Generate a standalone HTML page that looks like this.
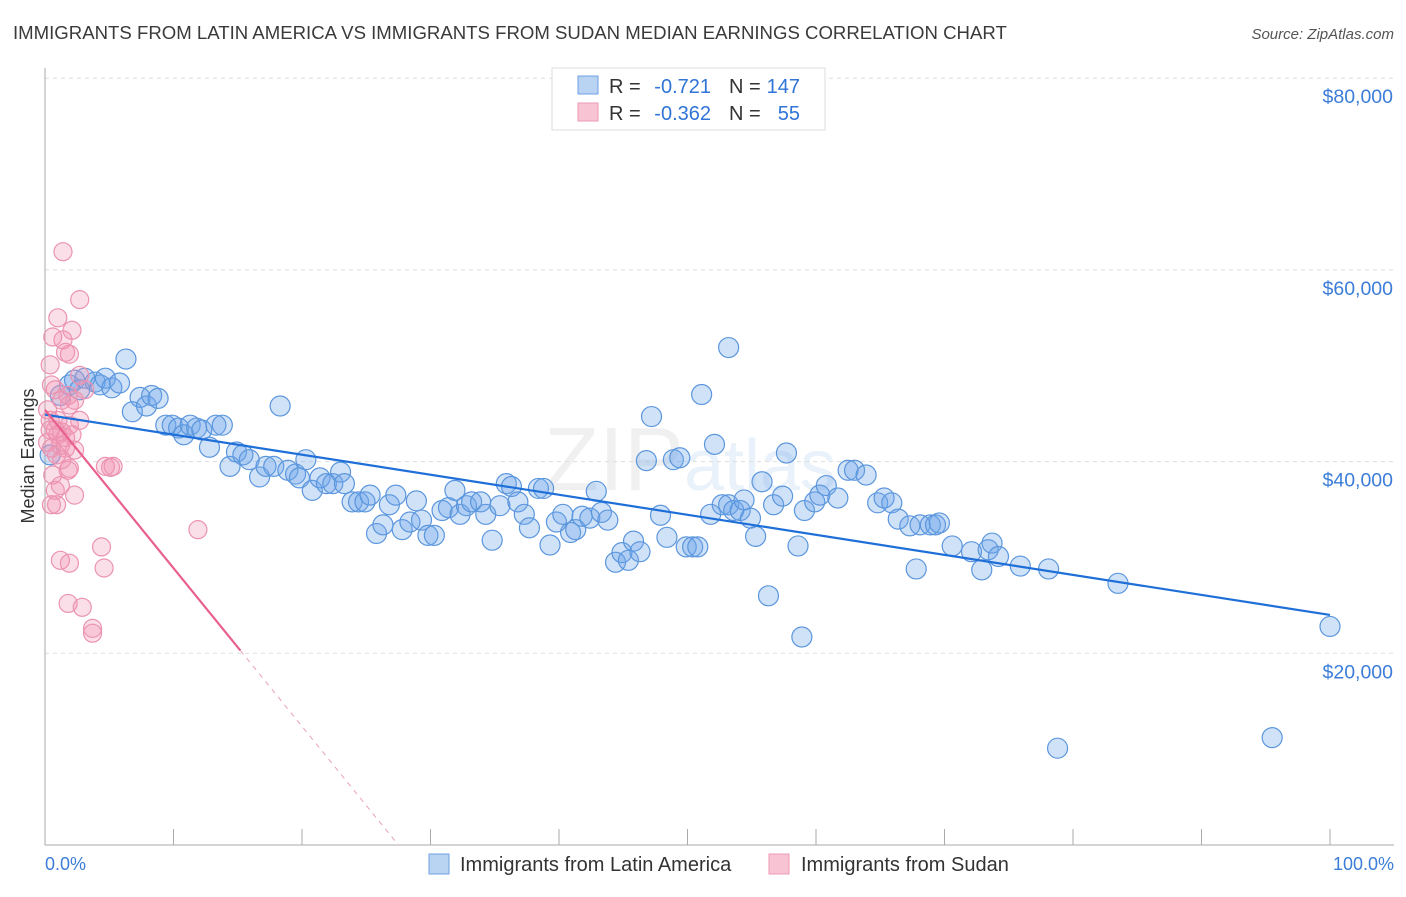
<!DOCTYPE html>
<html><head><meta charset="utf-8"><style>
body{margin:0;background:#fff;font-family:"Liberation Sans",sans-serif;}
svg text{font-family:"Liberation Sans",sans-serif;}
</style></head><body>
<svg id="chart" width="1406" height="892" viewBox="0 0 1406 892" xmlns="http://www.w3.org/2000/svg">
<text x="13" y="39" font-size="18.6" fill="#3a3a3a">IMMIGRANTS FROM LATIN AMERICA VS IMMIGRANTS FROM SUDAN MEDIAN EARNINGS CORRELATION CHART</text>
<text x="1394" y="39" font-size="15" fill="#555" font-style="italic" text-anchor="end">Source: ZipAtlas.com</text>
<text x="690" y="490" font-size="90" fill="#000" fill-opacity="0.06" text-anchor="middle" font-family="Liberation Serif">ZIP<tspan fill="#4a8fd8" fill-opacity="0.12" font-family="Liberation Sans" font-size="72">atlas</tspan></text>
<g id="grid"></g>
<g id="axes"></g>
<g id="points"></g>
<g id="trends"></g>
<text transform="translate(34,456) rotate(-90)" font-size="18" fill="#333" text-anchor="middle">Median Earnings</text>
<text x="45" y="870" font-size="18" fill="#3b7dd8">0.0%</text>
<text x="1394" y="870" font-size="18" fill="#3b7dd8" text-anchor="end">100.0%</text>
<g>
<rect x="552" y="68" width="273" height="62" fill="#fff" stroke="#ddd"/>
<rect x="578" y="76" width="20" height="18" fill="#b9d3f3" stroke="#6ea2e3"/>
<rect x="578" y="103" width="20" height="18" fill="#f8c4d3" stroke="#ec98b2"/>
<text x="609" y="93" font-size="20" fill="#333">R =</text>
<text x="711" y="93" font-size="20" fill="#2f74d6" text-anchor="end">-0.721</text>
<text x="729" y="93" font-size="20" fill="#333">N =</text>
<text x="800" y="93" font-size="20" fill="#2f74d6" text-anchor="end">147</text>
<text x="609" y="120" font-size="20" fill="#333">R =</text>
<text x="711" y="120" font-size="20" fill="#2f74d6" text-anchor="end">-0.362</text>
<text x="729" y="120" font-size="20" fill="#333">N =</text>
<text x="800" y="120" font-size="20" fill="#2f74d6" text-anchor="end">55</text>
</g>
<g>
<rect x="429" y="854" width="20" height="20" fill="#b9d3f3" stroke="#6ea2e3"/>
<text x="460" y="871" font-size="20" fill="#333">Immigrants from Latin America</text>
<rect x="769" y="854" width="20" height="20" fill="#f8c4d3" stroke="#ec98b2"/>
<text x="801" y="871" font-size="20" fill="#333">Immigrants from Sudan</text>
</g>
</svg>
<script>
const yTicks=[20000,40000,60000,80000];
const yTickLabels=["$20,000","$40,000","$60,000","$80,000"];
const blueX=[0.4,1.2,1.9,2.3,2.7,3.1,3.9,4.3,4.7,5.2,5.8,6.3,6.8,7.4,7.9,8.3,8.8,9.4,9.9,10.4,10.8,11.3,11.8,12.2,12.8,13.3,13.8,14.4,14.9,15.4,15.9,16.7,17.2,17.8,18.3,18.9,19.5,19.8,20.3,20.8,21.4,21.9,22.4,23.0,23.3,23.9,24.4,24.9,25.3,25.8,26.3,26.8,27.3,27.8,28.4,28.9,29.3,29.8,30.3,30.9,31.4,31.9,32.3,32.8,33.2,33.9,34.3,34.8,35.4,35.9,36.3,36.8,37.3,37.7,38.4,38.8,39.3,39.8,40.3,40.9,41.3,41.8,42.4,42.9,43.3,43.8,44.4,44.9,45.4,45.8,46.3,46.8,47.2,47.9,48.4,48.9,49.4,49.9,50.4,50.8,51.1,51.8,52.1,52.7,53.2,53.6,54.1,54.4,54.9,55.3,55.8,56.3,56.7,57.4,57.7,58.6,58.9,59.1,59.9,60.3,60.8,61.7,62.5,63.0,63.9,64.8,65.3,65.9,66.4,67.3,67.8,68.1,68.9,69.3,69.6,70.6,72.1,72.9,73.4,73.7,74.2,75.9,78.1,78.8,83.5,95.5,100,53.2];
const blueY=[40.7,46.9,48.0,48.5,47.5,48.7,48.3,48.0,48.7,47.7,48.2,50.7,45.2,46.7,45.8,46.9,46.6,43.8,43.8,43.5,42.8,43.8,43.5,43.3,41.5,43.8,43.8,39.5,41.0,40.7,40.2,38.4,39.5,39.5,45.8,39.1,38.7,38.3,40.2,37.0,38.3,37.7,37.7,38.9,37.7,35.8,35.8,35.8,36.5,32.5,33.4,35.5,36.5,32.9,33.7,35.9,33.9,32.3,32.3,34.9,35.2,37.0,34.5,35.4,35.8,35.8,34.5,31.8,35.4,37.7,37.4,35.8,34.5,33.1,37.2,37.2,31.3,33.7,34.5,32.6,32.9,34.3,34.1,36.9,34.7,33.9,29.5,30.5,29.7,31.7,30.6,40.1,44.7,34.4,32.1,40.2,40.4,31.1,31.1,31.1,47.0,34.5,41.8,35.5,35.5,34.9,34.9,36.0,34.1,32.2,37.9,26.0,35.5,36.4,40.9,31.2,21.7,34.9,35.8,36.5,37.5,36.2,39.1,39.1,38.6,35.7,36.2,35.7,34.0,33.3,28.8,33.4,33.4,33.4,33.6,31.2,30.6,28.7,30.8,31.5,30.1,29.1,28.8,10.1,27.3,11.2,22.8,51.9];
const pinkX=[1.4,2.7,1.0,2.1,0.6,1.4,1.6,1.9,0.4,0.5,0.8,1.3,1.8,2.3,2.7,0.4,0.8,1.0,1.3,1.6,1.9,2.1,0.2,0.5,1.2,1.6,1.8,1.9,4.7,5.1,5.3,0.8,1.2,2.3,0.5,0.9,1.2,1.9,4.4,4.6,11.9,1.8,2.9,3.7,3.7,0.4,0.2,1.0,0.9,0.6,2.3,1.3,2.7,3.1,1.9];
const pinkY=[61.9,56.9,55.0,53.7,53.0,52.7,51.4,51.2,50.1,48.0,47.5,46.4,46.9,46.4,44.3,44.3,43.3,42.8,43.1,42.5,43.8,42.8,42.0,41.4,41.7,41.4,39.1,39.3,39.5,39.4,39.5,37.0,37.5,36.5,35.5,35.5,29.7,29.4,31.1,28.9,32.9,25.2,24.8,22.6,22.1,43.3,45.4,44.3,40.7,38.6,41.2,40.2,49.0,47.5,45.9];
const blueTrendX=[0,100];
const blueTrendY=[44.9,24.0];
const pinkTrendX=[0,15.2];
const pinkTrendY=[45.4,20.3];
const pinkTrendDashX=[15.2,27.5];
const pinkTrendDashY=[20.3,0];

const NS="http://www.w3.org/2000/svg";
function sx(p){return 45+p*12.85;}
function sy(k){return 845-k/20*191.7;}
function mk(tag,attrs,parent){const e=document.createElementNS(NS,tag);for(const k in attrs)e.setAttribute(k,attrs[k]);parent.appendChild(e);return e;}
const grid=document.getElementById('grid'),axes=document.getElementById('axes'),pts=document.getElementById('points'),tr=document.getElementById('trends');
yTicks.forEach((v,i)=>{
 const y=sy(v/1000);
 const l=mk('line',{x1:45,x2:1394,y1:y,y2:y,stroke:'#ddd','stroke-dasharray':'4,4'},grid);
 
 
 const t=mk('text',{x:1393,y:y+25,'font-size':19.5,fill:'#3b7dd8','text-anchor':'end'},axes);
 t.textContent=yTickLabels[i];
 
 
});
const ya=mk('line',{x1:45,x2:45,y1:68,y2:845,stroke:'#aaa'},axes);


const xa=mk('line',{x1:45,x2:1394,y1:845,y2:845,stroke:'#aaa'},axes);


for(let i=1;i<=10;i++){
 const x=sx(i*10);
 const t=mk('line',{x1:x,x2:x,y1:829,y2:845,stroke:'#aaa'},axes);
 
 
}
blueX.forEach((x,i)=>{
 const c=mk('circle',{cx:sx(x),cy:sy(blueY[i]),r:10,fill:'rgba(110,165,232,0.32)',stroke:'#5b96dd','stroke-width':1.2},pts);
 
 
});
pinkX.forEach((x,i)=>{
 const c=mk('circle',{cx:sx(x),cy:sy(pinkY[i]),r:9,fill:'rgba(243,150,180,0.3)',stroke:'#eb93b0','stroke-width':1.2},pts);
 
 
});
const bl=mk('line',{x1:sx(blueTrendX[0]),y1:sy(blueTrendY[0]),x2:sx(blueTrendX[1]),y2:sy(blueTrendY[1]),stroke:'#1f6fd8','stroke-width':2.2},tr);


const pl=mk('line',{x1:sx(pinkTrendX[0]),y1:sy(pinkTrendY[0]),x2:sx(pinkTrendX[1]),y2:sy(pinkTrendY[1]),stroke:'#e8608e','stroke-width':2.2},tr);


const pd=mk('line',{x1:sx(pinkTrendDashX[0]),y1:sy(pinkTrendDashY[0]),x2:sx(pinkTrendDashX[1]),y2:sy(pinkTrendDashY[1]),stroke:'#e8a0b8','stroke-width':1,'stroke-dasharray':'5,5'},tr);


</script>
</body></html>
